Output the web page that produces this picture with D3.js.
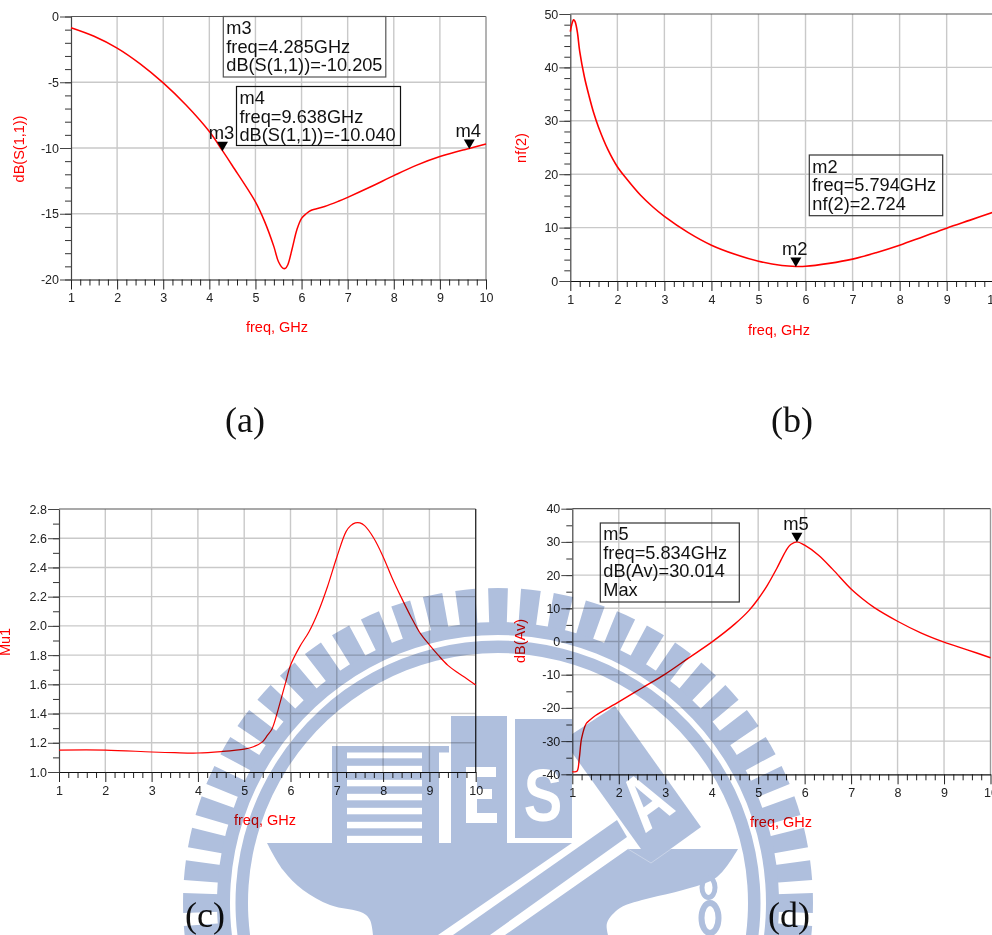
<!DOCTYPE html>
<html><head><meta charset="utf-8">
<script src="https://cdnjs.cloudflare.com/ajax/libs/d3/7.8.5/d3.min.js"></script>
<style>
html,body{margin:0;padding:0;background:#fff;overflow:hidden}
svg{display:block}
text{font-family:"Liberation Sans",Arial,sans-serif}
.wm{mix-blend-mode:multiply}
.wm text{font-family:"Liberation Sans",Arial,sans-serif;font-weight:700;fill:#fff}
</style></head><body>
<svg id="c" width="992" height="935"></svg>
<script>
// ---------- data ----------
const freqS11 = [1,1.5,2,2.5,3,3.5,4,4.285,4.5,5,5.2,5.4,5.5,5.6,5.65,5.7,5.8,5.9,6,6.1,6.2,6.5,6.8,7,7.5,8,8.5,9,9.5,9.638,10];
const dbS11   = [-0.85,-1.5,-2.4,-3.6,-5.05,-6.75,-8.75,-10.205,-11.35,-14.1,-15.6,-17.5,-18.65,-19.15,-19.15,-18.9,-17.6,-16.2,-15.35,-15,-14.75,-14.45,-14.05,-13.75,-12.95,-12.1,-11.3,-10.65,-10.15,-10.04,-9.7];
const freqNf = [1,1.03,1.07,1.1,1.15,1.2,1.3,1.4,1.5,1.6,1.8,2,2.2,2.5,2.75,3,3.5,4,4.5,5,5.5,5.794,6,6.5,7,7.5,8,8.5,9,9.5,10];
const nf2    = [46.7,48,48.9,48.6,46.6,43,38.2,34.6,31.4,28.8,24.6,21.4,19.1,16,13.9,12.1,9.1,6.7,5,3.7,2.9,2.724,2.75,3.3,4.1,5.3,6.7,8.3,9.9,11.4,12.9];
const freqMu = [1,2,3,3.5,4,4.5,5,5.2,5.4,5.5,5.6,5.7,5.8,5.9,6,6.2,6.4,6.6,6.8,7,7.2,7.3,7.4,7.5,7.6,7.8,8,8.2,8.4,8.6,8.8,9,9.2,9.4,9.6,9.8,10];
const mu1    = [1.15,1.15,1.137,1.132,1.13,1.14,1.157,1.173,1.208,1.25,1.295,1.39,1.504,1.618,1.73,1.858,1.96,2.097,2.27,2.47,2.645,2.686,2.705,2.705,2.686,2.6,2.474,2.325,2.19,2.063,1.95,1.87,1.796,1.73,1.682,1.64,1.595];
const freqAv = [1,1.1,1.15,1.2,1.3,1.35,1.5,2,2.5,3,3.5,4,4.5,4.8,5,5.2,5.4,5.6,5.7,5.834,6,6.3,6.6,7,7.25,7.5,8,8.5,9,9.5,10];
const dbAv   = [-39.2,-39.1,-35.2,-29.2,-24.7,-24,-22.3,-18.2,-14,-9.8,-5,-0.2,5.3,9.3,12.8,17,22,27.4,29.2,30.014,29,26,21.8,15.8,12.8,10.2,6.1,2.6,-0.2,-2.5,-4.9];

const freqTicks = [1,2,3,4,5,6,7,8,9,10];
const yTicksA = [0,-5,-10,-15,-20];
const yTicksB = [0,10,20,30,40,50];
const yTicksC = [1.0,1.2,1.4,1.6,1.8,2.0,2.2,2.4,2.6,2.8];
const yTicksD = [-40,-30,-20,-10,0,10,20,30,40];

const markersA = [{name:"m3",f:4.285,v:-10.205},{name:"m4",f:9.638,v:-10.04}];
const markersB = [{name:"m2",f:5.794,v:2.724}];
const markersD = [{name:"m5",f:5.834,v:30.014}];

const readoutM3 = ["m3","freq=4.285GHz","dB(S(1,1))=-10.205"];
const readoutM4 = ["m4","freq=9.638GHz","dB(S(1,1))=-10.040"];
const readoutM2 = ["m2","freq=5.794GHz","nf(2)=2.724"];
const readoutM5 = ["m5","freq=5.834GHz","dB(Av)=30.014","Max"];

// ---------- layout ----------
const RED="#ff0000", GRID="#c9c9c9", DARK="#222";
const svg=d3.select("#c");
svg.append("rect").attr("width",992).attr("height",935).attr("fill","#fff");
const asciiInt=d=>String(d);

function panel(o){
  const x=d3.scaleLinear().domain([1,10]).range([o.x0,o.x1]);
  const y=d3.scaleLinear().domain(o.yDomain).range([o.y1,o.y0]);
  const g=svg.append("g");
  g.append("g").selectAll("line").data(freqTicks.slice(1)).join("line")
    .attr("x1",d=>x(d)).attr("x2",d=>x(d)).attr("y1",o.y0).attr("y2",o.y1)
    .attr("stroke",GRID).attr("stroke-width",1.4);
  g.append("g").selectAll("line").data(o.yTicks.filter(d=>d!==o.yDomain[0]&&d!==o.yDomain[1])).join("line")
    .attr("x1",o.x0).attr("x2",o.x1).attr("y1",d=>y(d)).attr("y2",d=>y(d))
    .attr("stroke",GRID).attr("stroke-width",1.4);
  g.append("line").attr("x1",o.x0).attr("x2",o.x1).attr("y1",o.y0).attr("y2",o.y0).attr("stroke","#555").attr("stroke-width",1.2);
  g.append("line").attr("x1",o.x1).attr("x2",o.x1).attr("y1",o.y0).attr("y2",o.y1).attr("stroke",o.rightColor).attr("stroke-width",1.2);
  const xMinor=d3.range(1,10).flatMap(m=>[.2,.4,.6,.8].map(k=>m+k));
  const ax=g.append("g").attr("transform",`translate(0,${o.y1})`);
  ax.call(d3.axisBottom(x).tickValues(xMinor).tickSize(6).tickFormat(""));
  ax.select(".domain").remove();
  ax.selectAll("line").attr("stroke","#222");
  const ax2=g.append("g").attr("transform",`translate(0,${o.y1})`);
  ax2.call(d3.axisBottom(x).tickValues(freqTicks).tickSize(10).tickPadding(4).tickSizeOuter(0).tickFormat(d3.format("d")));
  ax2.select(".domain").attr("stroke","#111").attr("stroke-width",1.2);
  ax2.selectAll("line").attr("stroke","#222");
  ax2.selectAll("text").attr("font-size",12.5).attr("font-family","Liberation Sans").attr("fill",DARK);
  const yMinor=d3.range(o.yDomain[0],o.yDomain[1]+1e-9,o.yMinorStep);
  const ay=g.append("g").attr("transform",`translate(${o.x0},0)`);
  ay.call(d3.axisLeft(y).tickValues(yMinor).tickSize(6).tickFormat(""));
  ay.select(".domain").remove();
  ay.selectAll("line").attr("stroke","#333");
  const ay2=g.append("g").attr("transform",`translate(${o.x0},0)`);
  ay2.call(d3.axisLeft(y).tickValues(o.yTicks).tickSize(11).tickPadding(1).tickSizeOuter(0).tickFormat(o.fmt));
  ay2.select(".domain").attr("stroke","#444").attr("stroke-width",1.2);
  ay2.selectAll("line").attr("stroke","#444");
  ay2.selectAll("text").attr("font-size",12.5).attr("font-family","Liberation Sans").attr("fill",DARK);
  const line=d3.line().x(d=>x(d[0])).y(d=>y(d[1])).curve(d3.curveCatmullRom.alpha(0.5));
  g.append("path").attr("d",line(d3.zip(o.fs,o.vs))).attr("fill","none").attr("stroke",RED).attr("stroke-width",o.lw);
  g.append("text").attr("x",o.xLab[0]).attr("y",o.xLab[1]).attr("text-anchor","middle").attr("font-size",14.5).attr("fill",RED).text("freq, GHz");
  g.append("text").attr("transform",`translate(${o.yLab[0]},${o.yLab[1]}) rotate(-90)`).attr("text-anchor","middle").attr("font-size",14.5).attr("fill",RED).text(o.yName);
  (o.markers||[]).forEach(m=>{
    const px=x(m.f), py=y(m.v);
    g.append("path").attr("d",d3.line()([[px-5.5,py-9],[px+5.5,py-9],[px,py+0.5]])+"Z").attr("fill","#000");
    g.append("text").attr("x",px-1).attr("y",py-11.5).attr("text-anchor","middle").attr("font-size",18.4).attr("fill","#111").text(m.name);
  });
  (o.boxes||[]).forEach(b=>{
    g.append("rect").attr("x",b.x).attr("y",b.y).attr("width",b.w).attr("height",b.h).attr("fill","none").attr("stroke",b.c||"#333").attr("stroke-width",1.2);
    b.lines.forEach((t,i)=>g.append("text").attr("x",b.x+3).attr("y",b.base+i*18.6).attr("font-size",18.2).attr("fill","#111").text(t));
  });
  g.append("text").attr("x",o.tag[0]).attr("y",o.tag[1]).attr("text-anchor","middle")
    .style("font-family",'"Liberation Serif","Times New Roman",serif').attr("font-size",36).attr("fill","#111").text(o.tag[2]);
}

panel({x0:71,x1:486,y0:16.5,y1:279.5,yDomain:[-20,0],yTicks:yTicksA,yMinorStep:1,fmt:asciiInt,fs:freqS11,vs:dbS11,lw:1.5,rightColor:"#999",
  xLab:[277,332],yLab:[24,149],yName:"dB(S(1,1))",markers:markersA,tag:[245,432,"(a)"],
  boxes:[{x:223.3,y:16.5,w:162.5,h:60.5,base:34,lines:readoutM3,c:"#555"},{x:236.5,y:86.5,w:164,h:59,base:104,lines:readoutM4,c:"#111"}]});
panel({x0:570.3,x1:993.7,y0:14,y1:281,yDomain:[0,50],yTicks:yTicksB,yMinorStep:2,fmt:asciiInt,fs:freqNf,vs:nf2,lw:1.6,rightColor:"#999",
  xLab:[779,335],yLab:[526,148],yName:"nf(2)",markers:markersB,tag:[792,432,"(b)"],
  boxes:[{x:809.3,y:155,w:133.4,h:60.7,base:172.7,lines:readoutM2,c:"#333"}]});
panel({x0:59,x1:475.7,y0:509,y1:772,yDomain:[1,2.8],yTicks:yTicksC,yMinorStep:.1,fmt:d3.format(".1f"),fs:freqMu,vs:mu1,lw:1.2,rightColor:"#222",
  xLab:[265,825],yLab:[10,642],yName:"Mu1",tag:[205,927,"(c)"]});
panel({x0:572.3,x1:990.5,y0:508.7,y1:774.3,yDomain:[-40,40],yTicks:yTicksD,yMinorStep:5,fmt:asciiInt,fs:freqAv,vs:dbAv,lw:1.4,rightColor:"#999",
  xLab:[781,827],yLab:[525,641],yName:"dB(Av)",markers:markersD,tag:[789,927,"(d)"],
  boxes:[{x:600.3,y:523,w:139,h:79,base:540,lines:readoutM5,c:"#333"}]});

// ---------- watermark seal ----------
const BLUE="#afbfdd", FAINT="#cfd8ea";
const cx=498, cy=903;
const wm=svg.append("g").attr("class","wm");
const seal=wm.append("g").attr("transform",`translate(${cx},${cy})`);
const arc=d3.arc();
const toothAngles=d3.range(-102,103,6);
seal.selectAll(".t").data(toothAngles).join("path")
  .attr("d",a=>arc({innerRadius:278,outerRadius:315,startAngle:(a-1.8)*Math.PI/180,endAngle:(a+1.8)*Math.PI/180})).attr("fill",BLUE);
seal.append("path").attr("d",arc({innerRadius:268,outerRadius:281,startAngle:-2,endAngle:2})).attr("fill",BLUE);
seal.append("path").attr("d",arc({innerRadius:250,outerRadius:262.5,startAngle:-2,endAngle:2})).attr("fill",BLUE);

const poly=(pts,fill)=>wm.append("path").attr("d",d3.line()(pts)+"Z").attr("fill",fill||BLUE);
const box=(x,y,w,h,fill)=>wm.append("rect").attr("x",x).attr("y",y).attr("width",w).attr("height",h).attr("fill",fill||BLUE);
// fan and bands
const fanLeft=d3.line().curve(d3.curveCatmullRom)([[267,843],[283,870],[303,890],[330,905],[363,913],[370,920],[373,935]]);
wm.append("path").attr("d",fanLeft+"L438,935L572,843Z").attr("fill",BLUE);
const fanRight=d3.line().curve(d3.curveCatmullRom)([[738,849],[717,877],[683,890],[650,898],[620,908],[607,923],[608,935]]);
wm.append("path").attr("d","M628,849L"+fanRight.slice(1)+"L505,935Z").attr("fill",BLUE);
poly([[617,820],[627,837],[490,935],[453,935]]);
// T comb
box(332,746,117,6.5); box(332,746,15,97); box(422,752,17,94);
d3.range(0,6).forEach(i=>box(347,758.3+i*14,75,7.5));
// E block
box(451,716,56,130);
box(466,767,11,56,"#fff"); box(466,767,30,10,"#fff"); box(466,789,26,10,"#fff"); box(466,813,31,10,"#fff");
// S block
box(515,719,57,119);
wm.append("text").attr("transform","translate(543,821) scale(0.78,1)").attr("text-anchor","middle").attr("font-size",74).text("S");
// A block
poly([[615,706],[701,827],[651,863],[563,740]]);
wm.append("text").attr("transform","translate(661,822) rotate(-36) scale(0.72,1)").attr("text-anchor","middle").attr("font-size",77).text("A");
wm.append("path").attr("d",d3.line()([[628,849],[651,863],[671,849]])).attr("fill","none").attr("stroke",FAINT).attr("stroke-width",0.8);
// figure 8
wm.append("ellipse").attr("cx",708.5).attr("cy",887.5).attr("rx",6.5).attr("ry",10).attr("fill","none").attr("stroke",BLUE).attr("stroke-width",5);
wm.append("ellipse").attr("cx",710).attr("cy",918).attr("rx",8.5).attr("ry",15).attr("fill","none").attr("stroke",BLUE).attr("stroke-width",6);
</script></body></html>
